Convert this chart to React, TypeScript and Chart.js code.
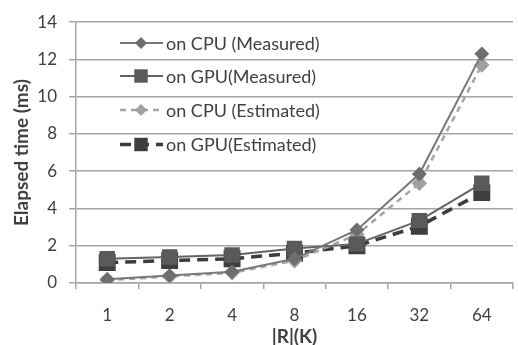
import React, { useEffect, useRef } from "react";
import { Chart, registerables } from "chart.js";

Chart.register(...registerables);

const categories = ["1", "2", "4", "8", "16", "32", "64"];
const cpuMeasured = [0.2, 0.4, 0.6, 1.3, 2.85, 5.85, 12.3];
const gpuMeasured = [1.3, 1.4, 1.5, 1.85, 2.1, 3.35, 5.35];
const cpuEstimated = [0.15, 0.35, 0.55, 1.2, 2.6, 5.35, 11.7];
const gpuEstimated = [1.1, 1.2, 1.3, 1.6, 2.0, 3.05, 4.85];
const yTicks = [0, 2, 4, 6, 8, 10, 12, 14];
const seriesNames = [
  "on CPU (Measured)",
  "on GPU(Measured)",
  "on CPU (Estimated)",
  "on GPU(Estimated)",
];

const FONT = "Lato, 'Open Sans', sans-serif";

const legendPlugin = {
  id: "insideLegend",
  afterDraw(chart: any) {
    const ctx = chart.ctx;
    const rows = [43, 76, 110, 144.5];
    ctx.save();
    chart.data.datasets.forEach((ds: any, i: number) => {
      const y = rows[i];
      const x0 = 120;
      const x1 = 163;
      ctx.save();
      ctx.strokeStyle = ds.borderColor;
      ctx.lineWidth = ds.borderWidth;
      ctx.setLineDash(ds.borderDash || []);
      ctx.beginPath();
      ctx.moveTo(x0, y);
      ctx.lineTo(x1, y);
      ctx.stroke();
      ctx.restore();
      ctx.save();
      ctx.fillStyle = ds.pointBackgroundColor;
      const r = ds.pointRadius;
      ctx.beginPath();
      if (ds.pointStyle === "rectRot") {
        ctx.moveTo(141, y - r);
        ctx.lineTo(141 + r, y);
        ctx.lineTo(141, y + r);
        ctx.lineTo(141 - r, y);
        ctx.closePath();
      } else {
        const s = r * Math.SQRT1_2;
        ctx.rect(141 - s, y - s, 2 * s, 2 * s);
      }
      ctx.fill();
      ctx.restore();
      ctx.fillStyle = "#404040";
      ctx.font = `18px ${FONT}`;
      ctx.textBaseline = "middle";
      ctx.textAlign = "left";
      ctx.fillText(seriesNames[i], 166, y + 1);
    });
    ctx.restore();
  },
};

export default function App() {
  const ref = useRef<HTMLCanvasElement | null>(null);
  useEffect(() => {
    document.body.style.margin = "0";
    document.body.style.overflow = "hidden";
    const chart = new Chart(ref.current!, {
      type: "line",
      data: {
        labels: categories,
        datasets: [
          {
            label: seriesNames[0],
            data: cpuMeasured,
            borderColor: "#787878",
            borderWidth: 2,
            pointStyle: "rectRot",
            pointRadius: 6,
            pointBackgroundColor: "#6e6e6e",
            pointBorderColor: "#6e6e6e",
            tension: 0,
          },
          {
            label: seriesNames[1],
            data: gpuMeasured,
            borderColor: "#636363",
            borderWidth: 2,
            pointStyle: "rect",
            pointRadius: 9.5,
            pointBackgroundColor: "#5a5a5a",
            pointBorderColor: "#5a5a5a",
            tension: 0,
          },
          {
            label: seriesNames[2],
            data: cpuEstimated,
            borderColor: "#a5a5a5",
            borderWidth: 2.5,
            borderDash: [6, 5],
            pointStyle: "rectRot",
            pointRadius: 6,
            pointBackgroundColor: "#a0a0a0",
            pointBorderColor: "#a0a0a0",
            tension: 0,
          },
          {
            label: seriesNames[3],
            data: gpuEstimated,
            borderColor: "#3c3c3c",
            borderWidth: 3.5,
            borderDash: [11, 7],
            pointStyle: "rect",
            pointRadius: 9.5,
            pointBackgroundColor: "#3e3e3e",
            pointBorderColor: "#3e3e3e",
            tension: 0,
          },
        ],
      },
      options: {
        responsive: false,
        animation: false,
        layout: { padding: { top: 18, right: 0, bottom: 0, left: 0 } },
        plugins: { legend: { display: false }, tooltip: { enabled: false } },
        scales: {
          x: {
            offset: true,
            grid: {
              offset: true,
              drawOnChartArea: false,
              drawTicks: true,
              tickLength: 6,
              color: "#a6a6a6",
              lineWidth: 1.5,
            },
            border: { display: true, color: "#a6a6a6", width: 1.5 },
            ticks: {
              color: "#404040",
              font: { family: FONT, size: 17 },
              padding: 16,
              maxRotation: 0,
            },
            title: {
              display: true,
              text: "|R|(K)",
              color: "#404040",
              font: { family: FONT, size: 19, weight: "bold" },
              padding: { top: 0, bottom: 1.5 },
            },
            afterFit(scale: any) {
              scale.height = 67;
            },
          },
          y: {
            min: 0,
            max: 14,
            afterBuildTicks(scale: any) {
              scale.ticks = yTicks.map((v) => ({ value: v }));
            },
            grid: {
              color: "#a6a6a6",
              lineWidth: 1.5,
              drawTicks: true,
              tickLength: 7,
            },
            border: { display: true, color: "#a6a6a6", width: 1.5 },
            ticks: {
              color: "#404040",
              font: { family: FONT, size: 17 },
              padding: 12,
            },
            title: {
              display: true,
              text: "Elapsed time (ms)",
              color: "#404040",
              font: { family: FONT, size: 19, weight: "bold" },
              padding: { top: 10, bottom: 0 },
            },
            afterFit(scale: any) {
              scale.width = 76;
            },
          },
        },
      },
      plugins: [legendPlugin],
    });
    return () => chart.destroy();
  }, []);
  return (
    <div style={{ width: 518, height: 345, overflow: "hidden" }}>
      <canvas ref={ref} width={526} height={350} style={{ display: "block" }} />
    </div>
  );
}
